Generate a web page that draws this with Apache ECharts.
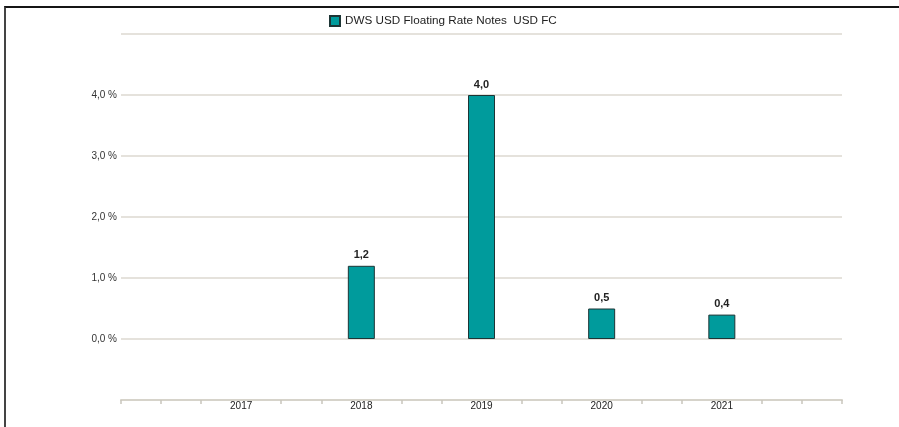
<!DOCTYPE html>
<html>
<head>
<meta charset="utf-8">
<script src="https://cdn.jsdelivr.net/npm/echarts@6/dist/echarts.min.js"></script>
<style>
  html, body { margin: 0; padding: 0; background: #fff; }
  #frame { position: absolute; left: 4px; top: 6px; width: 895px; height: 421px;
           border-top: 2px solid #151515; border-left: 2px solid #444; box-sizing: border-box; }
  #main { position: absolute; left: 0; top: 0; width: 899px; height: 427px; }
</style>
</head>
<body>
<div id="frame"></div>
<div id="main"></div>
<script>
// chart data
const years = ['2017', '2018', '2019', '2020', '2021'];
const returns = [null, 1.2, 4.0, 0.5, 0.4];
const seriesName = 'DWS USD Floating Rate Notes  USD FC';
const yTicks = [0, 1, 2, 3, 4];

// the x axis has 3 sub-steps per year, from 2016 to 2022
const slots = [];
const slotValues = [];
for (let i = 0; i <= 18; i++) {
    const k = i / 3 - 1;
    if (i % 3 === 0 && k >= 0 && k < years.length) {
        slots.push(years[k]);
        slotValues.push(returns[k]);
    } else {
        slots.push('');
        slotValues.push(null);
    }
}

const fmt = v => v.toFixed(1).replace('.', ',');
const font = '"Liberation Sans", Arial, sans-serif';

const chart = echarts.init(document.getElementById('main'));
chart.setOption({
    animation: false,
    backgroundColor: 'transparent',
    textStyle: { fontFamily: font },
    legend: {
        left: 324, top: 10,
        itemWidth: 10, itemHeight: 10, itemGap: 4,
        icon: 'rect',
        textStyle: { fontSize: 11.7, color: '#222', fontFamily: font },
        data: [seriesName]
    },
    grid: { left: 121, right: 57, top: 34, bottom: 27, containLabel: false },
    xAxis: {
        type: 'category',
        data: slots,
        boundaryGap: false,
        axisLine: { onZero: false, lineStyle: { color: '#d6d3ca', width: 2 } },
        axisTick: {
            show: true, length: 4,
            interval: (idx) => idx === 0 || idx === 18 || idx % 3 !== 0,
            lineStyle: { color: '#c9c6bd', width: 1.5 }
        },
        axisLabel: { interval: 0, margin: 1, fontSize: 10, color: '#222', fontFamily: font },
        splitLine: { show: false }
    },
    yAxis: {
        type: 'value',
        min: -1, max: 5, interval: 1,
        axisLine: { show: false },
        axisTick: { show: false },
        axisLabel: {
            margin: 4, fontSize: 10, color: '#333', fontFamily: font,
            formatter: v => (yTicks.indexOf(v) >= 0 ? fmt(v) + ' %' : '')
        },
        splitLine: { lineStyle: { color: '#dcd9d1', width: 1.5 } }
    },
    series: [{
        name: seriesName,
        type: 'bar',
        data: slotValues,
        barWidth: 27,
        itemStyle: { color: '#009b9c', borderColor: '#1d3535', borderWidth: 1 },
        label: {
            show: true, position: 'top', distance: 5,
            fontSize: 11, fontWeight: 'bold', color: '#222', fontFamily: font,
            formatter: p => fmt(p.value)
        }
    }]
});
</script>
</body>
</html>
